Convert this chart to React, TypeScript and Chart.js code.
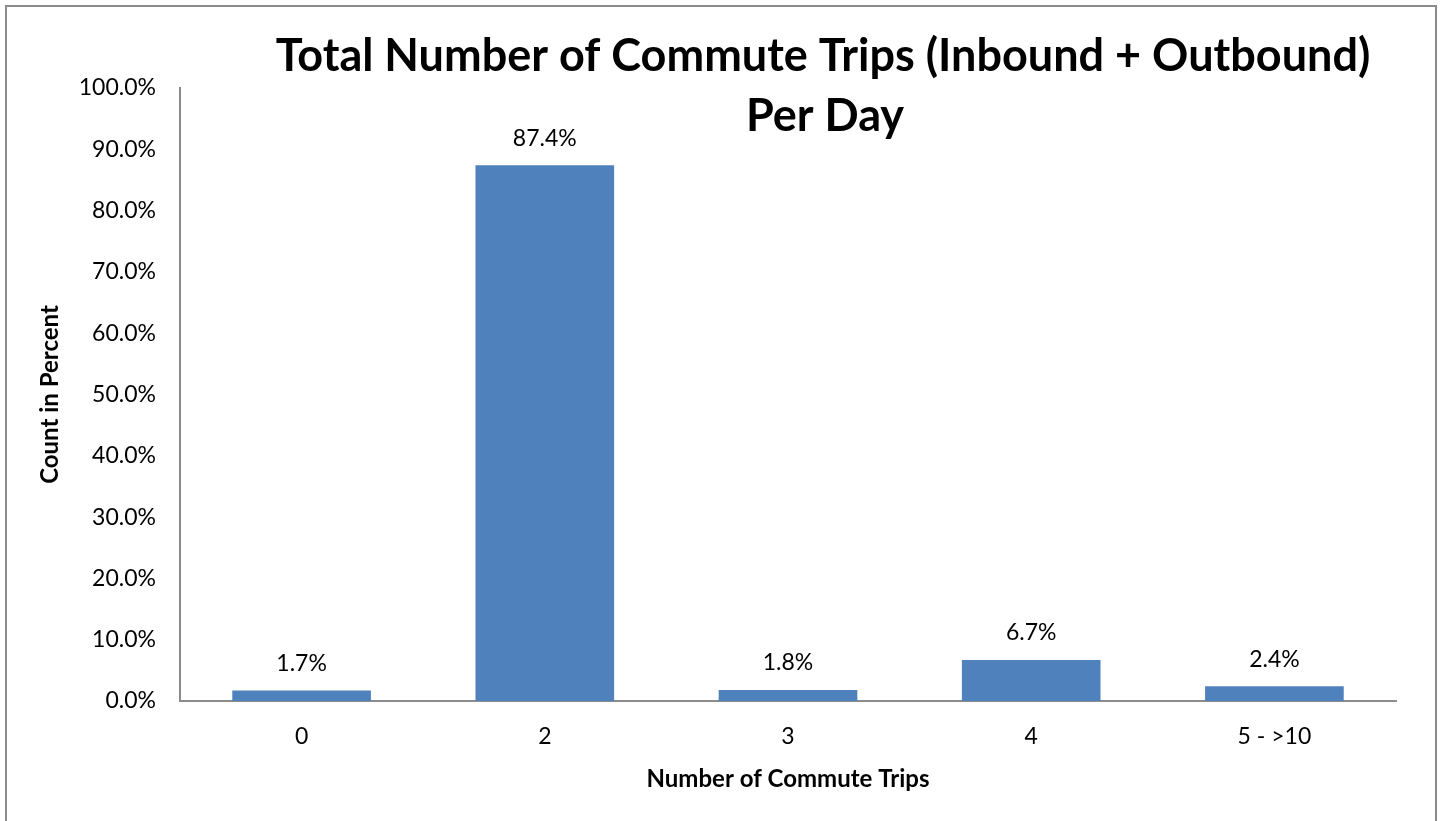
import React, { useEffect, useRef } from "react";
import { Chart, registerables } from "chart.js";

Chart.register(...registerables);

const categories = ["0", "2", "3", "4", "5 - >10"];
const percentValues = [1.7, 87.4, 1.8, 6.7, 2.4];
const titleLines = ["Total Number of Commute Trips (Inbound + Outbound)", "Per Day"];
const xAxisTitle = "Number of Commute Trips";
const yAxisTitle = "Count in Percent";

const FONT = "Lato, 'Open Sans', sans-serif";

const decorPlugin = {
  id: "decor",
  afterDraw(chart: any) {
    const ctx = chart.ctx;
    ctx.save();
    // outer border
    ctx.strokeStyle = "#8c8c8c";
    ctx.lineWidth = 2;
    ctx.strokeRect(6, 6, 1430, 830);
    // title
    ctx.fillStyle = "#000";
    ctx.font = `bold 45px ${FONT}`;
    ctx.textAlign = "center";
    ctx.textBaseline = "middle";
    ctx.fillText(titleLines[0], 823, 56);
    ctx.fillText(titleLines[1], 825, 116);
    // data labels
    ctx.font = `23px ${FONT}`;
    const meta = chart.getDatasetMeta(0);
    meta.data.forEach((bar: any, i: number) => {
      ctx.fillText(percentValues[i].toFixed(1) + "%", bar.x, bar.y - 27);
    });
    ctx.restore();
  },
};

export default function App() {
  const ref = useRef<HTMLCanvasElement>(null);
  useEffect(() => {
    const chart = new Chart(ref.current!, {
      type: "bar",
      data: {
        labels: categories,
        datasets: [
          {
            data: percentValues,
            backgroundColor: "#4F81BD",
            categoryPercentage: 1,
            barPercentage: 0.57,
          },
        ],
      },
      options: {
        animation: false,
        responsive: false,
        maintainAspectRatio: false,
        layout: { padding: { top: 88, right: 46, left: 0, bottom: 0 } },
        plugins: { legend: { display: false }, tooltip: { enabled: false }, title: { display: false } },
        scales: {
          x: {
            grid: { display: false, drawTicks: false },
            border: { color: "#8c8c8c", width: 2 },
            ticks: { color: "#000", font: { family: FONT, size: 23 }, padding: 22 },
            title: {
              display: true,
              text: xAxisTitle,
              color: "#000",
              font: { family: FONT, size: 24, weight: "bold" },
              padding: { top: 0, bottom: 27 },
            },
            afterFit: (s: any) => {
              s.height = 120;
            },
          },
          y: {
            min: 0,
            max: 100,
            grid: { display: false, drawTicks: false },
            border: { color: "#8c8c8c", width: 2 },
            ticks: {
              stepSize: 10,
              color: "#000",
              font: { family: FONT, size: 23 },
              padding: 24,
              callback: (v: any) => Number(v).toFixed(1) + "%",
            },
            title: {
              display: true,
              text: yAxisTitle,
              color: "#000",
              font: { family: FONT, size: 24, weight: "bold" },
              padding: { top: 36, bottom: 0 },
            },
            afterFit: (s: any) => {
              s.width = 180;
            },
          },
        },
      },
      plugins: [decorPlugin],
    });
    return () => chart.destroy();
  }, []);
  return (
    <div style={{ position: "fixed", left: 0, top: 0, width: 1442, height: 821, background: "#fff" }}>
      <canvas ref={ref} width={1442} height={821} style={{ width: 1442, height: 821 }} />
    </div>
  );
}
